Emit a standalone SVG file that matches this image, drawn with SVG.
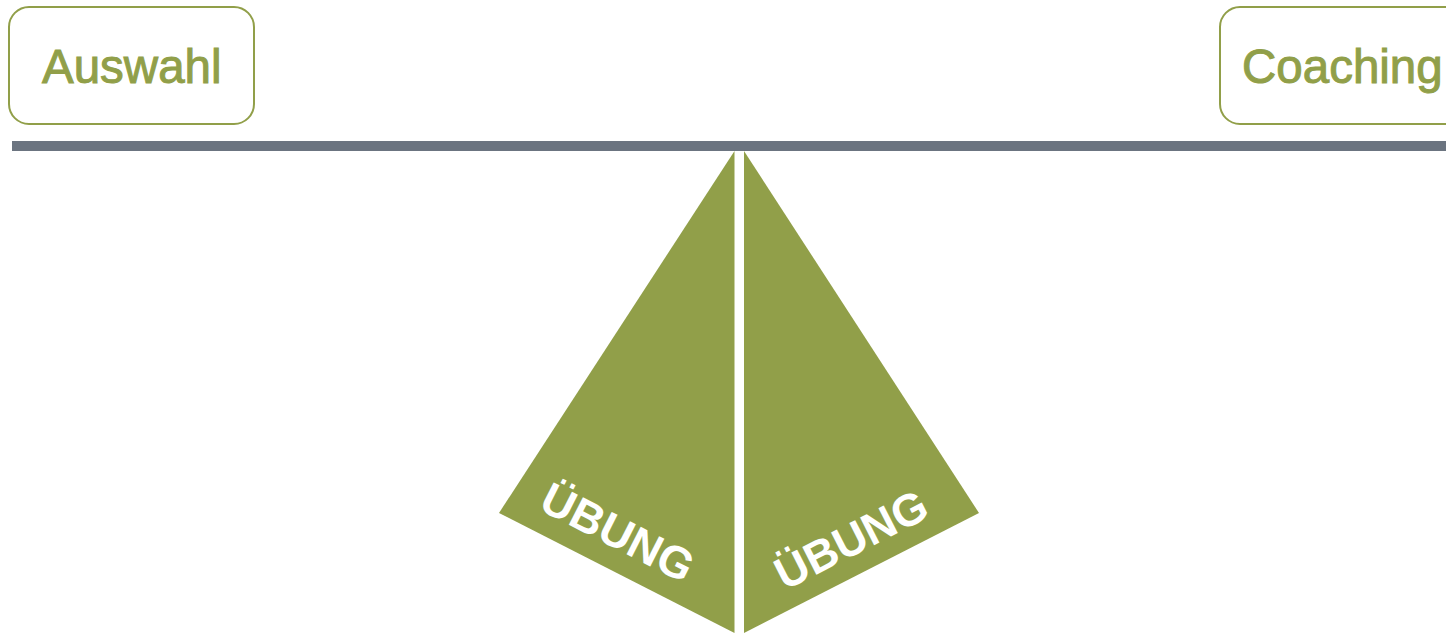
<svg xmlns="http://www.w3.org/2000/svg" width="1446" height="633" viewBox="0 0 1446 633">
<style>
.box{fill:#fff;stroke:#919F49;stroke-width:2}
.lbl{font-family:"Liberation Sans",Arial,sans-serif;font-size:47.5px;fill:#919F49;stroke:#919F49;stroke-width:1}
.tri{fill:#919F49}
.ub{font-family:"Liberation Sans",Arial,sans-serif;font-size:45px;font-weight:bold;fill:#fff;text-anchor:middle}
</style>
<rect width="1446" height="633" fill="#fff"/>
<g id="auswahl">
<rect class="box" x="9" y="7" width="245" height="117" rx="20"/>
<text class="lbl" x="42" y="83">Auswahl</text>
</g>
<g id="coaching">
<rect class="box" x="1220" y="7" width="245" height="117" rx="20"/>
<text class="lbl" x="1242" y="83">Coaching</text>
</g>
<g id="beam">
<rect x="12" y="141" width="1434" height="10" fill="#6B7480"/>
</g>
<g id="left-triangle">
<polygon class="tri" points="734.5,151 499,513 734.5,633"/>
<text class="ub" transform="translate(618,532) rotate(27)" y="16">ÜBUNG</text>
</g>
<g id="right-triangle">
<polygon class="tri" points="744,151 979,513 744,633"/>
<text class="ub" transform="translate(851,539) rotate(-27)" y="16">ÜBUNG</text>
</g>
<g id="connectors"></g>
</svg>
